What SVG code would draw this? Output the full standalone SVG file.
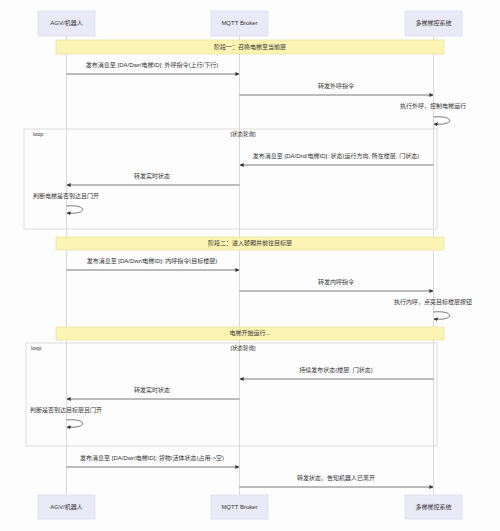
<svg xmlns="http://www.w3.org/2000/svg" width="500" height="531" viewBox="0 0 500 531">
<style>
text{font-family:"Liberation Sans","Noto Sans CJK SC",sans-serif;fill:#333}
.actor rect{fill:#e9e9f8;stroke:#dcdcef;stroke-width:0.8}
.actor text{font-size:6px;text-anchor:middle;dominant-baseline:middle}
.life{stroke:#cfcfcf;stroke-width:0.8}
.msg{stroke:#555;stroke-width:0.8;fill:none}
.lbl{font-size:6px;text-anchor:middle}
.note rect{fill:#fbf4b2;stroke:#ece4a0;stroke-width:0.8}
.note text{font-size:6px;text-anchor:middle;dominant-baseline:middle}
.frame{fill:none;stroke:#d4d4d4;stroke-width:0.8}
.ftxt{font-size:5.5px}
</style>
<defs>
<marker id="ah" viewBox="0 0 10 10" refX="9" refY="5" markerWidth="5" markerHeight="5" orient="auto-start-reverse">
<path d="M0,0 L10,5 L0,10 z" fill="#333"/>
</marker>
</defs>
<rect width="500" height="531" fill="#fdfdfd"/>
<g id="lifelines">
<line class="life" x1="66.5" y1="35" x2="66.5" y2="495"/>
<line class="life" x1="239.5" y1="35" x2="239.5" y2="495"/>
<line class="life" x1="433.5" y1="35" x2="433.5" y2="495"/>
</g>
<g id="frames">
<rect class="frame" x="24" y="129" width="413" height="100"/>
<text class="ftxt" x="33" y="136">loop</text>
<text class="ftxt" x="243" y="136" text-anchor="middle">[状态轮询]</text>
<rect class="frame" x="26" y="343" width="411" height="103"/>
<text class="ftxt" x="31" y="350">loop</text>
<text class="ftxt" x="243" y="350" text-anchor="middle">[状态轮询]</text>
</g>
<g id="note1" class="note"><rect x="56" y="40" width="388" height="14"/><text x="250" y="47">阶段一：召唤电梯至当前层</text></g>
<g id="note2" class="note"><rect x="56" y="237" width="388" height="13"/><text x="250" y="243.5">阶段二：进入轿厢并前往目标层</text></g>
<g id="note3" class="note"><rect x="56" y="327" width="388" height="13"/><text x="250" y="333.5">电梯开始运行...</text></g>
<g id="connectors">
<line class="msg" x1="66.5" y1="74" x2="239" y2="74" marker-end="url(#ah)"/>
<text class="lbl" x="152" y="67">发布消息至 [DA/Dwr/电梯ID]: 外呼指令(上行/下行)</text>
<line class="msg" x1="239.5" y1="95" x2="433" y2="95" marker-end="url(#ah)"/>
<text class="lbl" x="336" y="88">转发外呼指令</text>
<text class="lbl" x="433" y="108">执行外呼，控制电梯运行</text>
<path class="msg" d="M433.5,117 C455,115 455,126 434,124" marker-end="url(#ah)"/>
<line class="msg" x1="433.5" y1="165" x2="240" y2="165" marker-end="url(#ah)"/>
<text class="lbl" x="336" y="158">发布消息至 [DA/Drd/电梯ID]: 状态(运行方向, 所在楼层, 门状态)</text>
<line class="msg" x1="239.5" y1="185" x2="67" y2="185" marker-end="url(#ah)"/>
<text class="lbl" x="152" y="178">转发实时状态</text>
<text class="lbl" x="66" y="198">判断电梯是否到达且门开</text>
<path class="msg" d="M66.5,206 C88,204 88,215 67,213" marker-end="url(#ah)"/>
<line class="msg" x1="66.5" y1="270" x2="239" y2="270" marker-end="url(#ah)"/>
<text class="lbl" x="152" y="263">发布消息至 [DA/Dwr/电梯ID]: 内呼指令(目标楼层)</text>
<line class="msg" x1="239.5" y1="291" x2="433" y2="291" marker-end="url(#ah)"/>
<text class="lbl" x="336" y="284">转发内呼指令</text>
<text class="lbl" x="433" y="304">执行内呼，点亮目标楼层按钮</text>
<path class="msg" d="M433.5,312 C455,310 455,321 434,319" marker-end="url(#ah)"/>
<line class="msg" x1="433.5" y1="379" x2="240" y2="379" marker-end="url(#ah)"/>
<text class="lbl" x="336" y="372">持续发布状态(楼层, 门状态)</text>
<line class="msg" x1="239.5" y1="399" x2="67" y2="399" marker-end="url(#ah)"/>
<text class="lbl" x="152" y="392">转发实时状态</text>
<text class="lbl" x="66" y="412">判断是否到达目标层且门开</text>
<path class="msg" d="M66.5,420 C88,418 88,429 67,427" marker-end="url(#ah)"/>
<line class="msg" x1="66.5" y1="467" x2="239" y2="467" marker-end="url(#ah)"/>
<text class="lbl" x="152" y="460">发布消息至 [DA/Dwr/电梯ID]: 货物/活体状态(占用-&gt;空)</text>
<line class="msg" x1="239.5" y1="487" x2="433" y2="487" marker-end="url(#ah)"/>
<text class="lbl" x="336" y="480">转发状态，告知机器人已离开</text>
</g>
<g id="agv-top" class="actor"><rect x="38" y="11" width="57" height="25"/><text x="66.5" y="23.5">AGV/机器人</text></g>
<g id="mqtt-top" class="actor"><rect x="211" y="11" width="57" height="25"/><text x="239.5" y="23.5">MQTT Broker</text></g>
<g id="elev-top" class="actor"><rect x="405" y="11" width="57" height="25"/><text x="433.5" y="23.5">多梯梯控系统</text></g>
<g id="agv-bottom" class="actor"><rect x="38" y="495" width="57" height="24"/><text x="66.5" y="507">AGV/机器人</text></g>
<g id="mqtt-bottom" class="actor"><rect x="211" y="495" width="57" height="24"/><text x="239.5" y="507">MQTT Broker</text></g>
<g id="elev-bottom" class="actor"><rect x="405" y="495" width="57" height="24"/><text x="433.5" y="507">多梯梯控系统</text></g>
</svg>
